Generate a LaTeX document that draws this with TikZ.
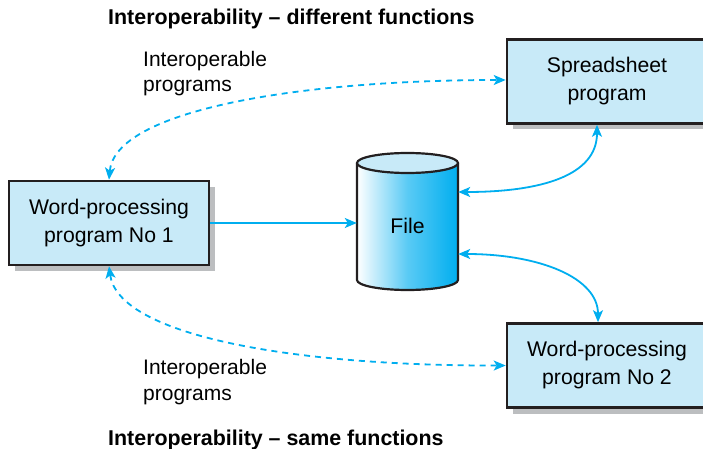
\documentclass[tikz,border=0pt]{standalone}
\usepackage{fontspec}
\setmainfont{Liberation Sans}
\usetikzlibrary{arrows.meta,shadows}
\definecolor{arrowcyan}{HTML}{00AEEF}
\definecolor{boxfill}{HTML}{C8EAF8}
\definecolor{shadowgray}{HTML}{BCBEC0}
\definecolor{borderdark}{HTML}{231F20}
\tikzset{
  prog/.style={draw=borderdark, line width=2.6pt, fill=boxfill,
    minimum width=200pt, minimum height=84pt, align=center,
    font=\fontsize{21.2}{28}\selectfont,
    drop shadow={shadow xshift=6pt, shadow yshift=-6pt, fill=shadowgray, opacity=1}},
  conn/.style={draw=arrowcyan, line width=1.8pt,
    arrows={Stealth[length=12pt,width=10pt,inset=3pt]-Stealth[length=12pt,width=10pt,inset=3pt]}},
  oneway/.style={draw=arrowcyan, line width=1.8pt,
    arrows={-Stealth[length=12pt,width=10pt,inset=3pt]}},
  dashconn/.style={conn, dash pattern=on 6pt off 5pt},
  lbl/.style={anchor=base west, inner sep=0pt, align=left,
    font=\fontsize{21}{25.5}\selectfont},
  ttl/.style={anchor=base west, inner sep=0pt,
    font=\fontsize{21.4}{25.5}\selectfont\bfseries},
}
\begin{document}
\begin{tikzpicture}[x=1pt,y=-1pt]
\useasboundingbox (0,0) rectangle (703,449);
\clip (0,0) rectangle (703,449);

% cylinder (File)
\shade[left color=white, right color=arrowcyan, middle color=arrowcyan!65]
  (357,163) -- (357,280) arc[start angle=180, end angle=360, x radius=50.5pt, y radius=10pt]
  -- (458,163) -- cycle;
\draw[borderdark, line width=2.2pt]
  (357,163) -- (357,280) arc[start angle=180, end angle=360, x radius=50.5pt, y radius=10pt]
  -- (458,163);
\draw[borderdark, line width=2.2pt, fill=boxfill] (407.5,163) ellipse[x radius=50.5pt, y radius=10pt];
\node[draw=none, minimum width=101pt, minimum height=128pt, inner sep=0pt,
  font=\fontsize{21.2}{25.5}\selectfont] (file) at (407.5,226) {File};

% program boxes
\node[prog] (word1) at (109,223) {Word-processing\\program No 1};
\node[prog] (sheet) at (607,81.5) {Spreadsheet\\program};
\node[prog] (word2) at (607,365.5) {Word-processing\\program No 2};

% connectors
\draw[oneway] (word1.east) -- (word1.east -| file.west);
\draw[conn] ([xshift=-10pt]sheet.south) .. controls (597,176) and (540,192) .. ([yshift=34pt]file.east);
\draw[conn] ([yshift=-28pt]file.east) .. controls (540,254) and (598,278) .. ([xshift=-9pt]word2.north);
\draw[dashconn] (word1.north) .. controls (115,110) and (300,80) .. ([yshift=1.5pt]sheet.west);
\draw[dashconn] (word1.south) .. controls (118,335) and (290,366) .. (word2.west);

% labels
\node[lbl] (lbltop) at (143,92) {Interoperable\\programs};
\node[lbl] (lblbot) at (143,400) {Interoperable\\programs};
\node[ttl] (ttltop) at (108,25) {Interoperability – different functions};
\node[ttl] (ttlbot) at (108,445) {Interoperability – same functions};
\end{tikzpicture}
\end{document}
